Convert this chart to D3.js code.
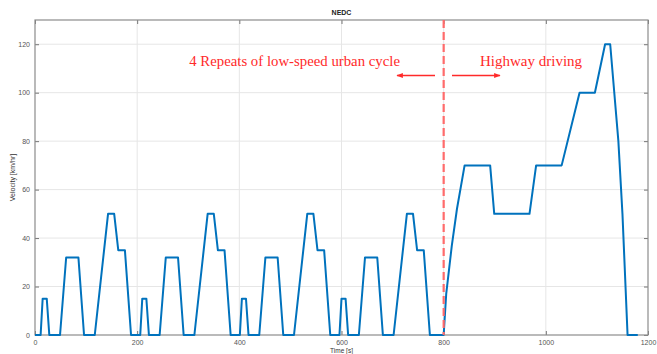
<!DOCTYPE html>
<html><head><meta charset="utf-8">
<script src="https://cdn.jsdelivr.net/npm/d3@7"></script>
<style>body{margin:0;background:#fff;}svg{display:block;}</style>
</head><body>
<svg id="c" width="657" height="354"></svg>
<script>
// ECE-15 urban cycle (one repeat, 195 s): time [s], velocity [km/h]
const eceTime  = [0, 11, 15, 23, 28, 49, 61, 85, 96, 117, 143, 155, 163, 176, 188, 195];
const eceSpeed = [0,  0, 15, 15,  0,  0, 32, 32,  0,   0,  50,  50,  35,  35,   0,   0];
const eceRepeats = 4;
// EUDC highway part (absolute time)
const eudcTime  = [780, 800, 805, 816, 826, 841, 891, 899, 968, 981, 1031, 1066, 1096, 1116, 1126, 1142, 1150, 1160, 1180];
const eudcSpeed = [  0,   0,  17,  37,  52,  70,  70,  50,  50,  70,   70,  100,  100,  120,  120,   80,   50,    0,    0];
const xTicks = [0, 200, 400, 600, 800, 1000, 1200];
const yTicks = [0, 20, 40, 60, 80, 100, 120];
const splitTime = 800;
const title = "NEDC";
const xLabel = "Time [s]";
const yLabel = "Velocity [km/hr]";
const leftNote = "4 Repeats of low-speed urban cycle";
const rightNote = "Highway driving";

const data = [];
for (let r = 0; r < eceRepeats; r++) {
  eceTime.forEach((t, i) => data.push([t + 195 * r, eceSpeed[i]]));
}
eudcTime.forEach((t, i) => data.push([t, eudcSpeed[i]]));

const svg = d3.select("#c");
const L = 35, R = 648, T = 20, B = 335;
const x = d3.scaleLinear().domain([0, 1200]).range([L, R]);
const y = d3.scaleLinear().domain([0, 130]).range([B, T]);

// grid
svg.append("g").selectAll("line").data(xTicks.slice(1, -1)).join("line")
  .attr("x1", d => x(d)).attr("x2", d => x(d)).attr("y1", T).attr("y2", B)
  .attr("stroke", "#e6e6e6").attr("stroke-width", 1);
svg.append("g").selectAll("line").data(yTicks.slice(1)).join("line")
  .attr("x1", L).attr("x2", R).attr("y1", d => y(d)).attr("y2", d => y(d))
  .attr("stroke", "#e6e6e6").attr("stroke-width", 1);

// axes
const fontAxis = "Arial, 'Liberation Sans', Helvetica, sans-serif";
const fmt = d3.format("d");
const xAx = svg.append("g").attr("transform", `translate(0,${B})`)
  .call(d3.axisBottom(x).tickValues(xTicks).tickFormat(fmt).tickSizeInner(-4).tickSizeOuter(0).tickPadding(5));
const xAxT = svg.append("g").attr("transform", `translate(0,${T})`)
  .call(d3.axisTop(x).tickValues(xTicks).tickSizeInner(-4).tickSizeOuter(0).tickFormat(""));
const yAx = svg.append("g").attr("transform", `translate(${L},0)`)
  .call(d3.axisLeft(y).tickValues(yTicks).tickFormat(fmt).tickSizeInner(-4).tickSizeOuter(0).tickPadding(5));
const yAxR = svg.append("g").attr("transform", `translate(${R},0)`)
  .call(d3.axisRight(y).tickValues(yTicks).tickSizeInner(-4).tickSizeOuter(0).tickFormat(""));
[xAx, xAxT, yAx, yAxR].forEach(g => {
  g.select(".domain").remove();
  g.selectAll(".tick line").attr("stroke", "#555").attr("stroke-width", 0.8);
  g.selectAll("text").attr("fill", "#555").attr("font-size", 7).attr("font-family", fontAxis);
});
// box
svg.append("rect").attr("x", L).attr("y", T).attr("width", R - L).attr("height", B - T)
  .attr("fill", "none").attr("stroke", "#8c8c8c").attr("stroke-width", 1.2);

// line
svg.append("path").datum(data)
  .attr("d", d3.line().x(d => x(d[0])).y(d => y(d[1])))
  .attr("fill", "none").attr("stroke", "#0072BD").attr("stroke-width", 2)
  .attr("stroke-linejoin", "round");

// dashed split line
svg.append("line").attr("x1", x(splitTime)).attr("x2", x(splitTime)).attr("y1", T).attr("y2", B)
  .attr("stroke", "#ff6b6b").attr("stroke-width", 2.2).attr("stroke-dasharray", "8,4");

// annotations
const red = "#ff2a2a";
const serif = "'Liberation Serif', 'Times New Roman', serif";
svg.append("text").attr("x", 400).attr("y", 66).attr("text-anchor", "end")
  .attr("font-family", serif).attr("font-size", 14.8)
  .attr("fill", red).text(leftNote);
svg.append("text").attr("x", 480).attr("y", 66).attr("text-anchor", "start")
  .attr("font-family", serif).attr("font-size", 15)
  .attr("fill", red).text(rightNote);
const defs = svg.append("defs");
defs.append("marker").attr("id", "ah").attr("viewBox", "0 0 10 10").attr("refX", 9).attr("refY", 5)
  .attr("markerWidth", 6).attr("markerHeight", 5).attr("orient", "auto")
  .append("path").attr("d", "M0,1 L10,5 L0,9 Z").attr("fill", red);
svg.append("line").attr("x1", 435).attr("x2", 397).attr("y1", 75.5).attr("y2", 75.5)
  .attr("stroke", red).attr("stroke-width", 1.3).attr("marker-end", "url(#ah)");
svg.append("line").attr("x1", 452).attr("x2", 500).attr("y1", 75.5).attr("y2", 75.5)
  .attr("stroke", red).attr("stroke-width", 1.3).attr("marker-end", "url(#ah)");

// title & labels
svg.append("text").attr("x", (L + R) / 2).attr("y", 15).attr("text-anchor", "middle")
  .attr("font-family", fontAxis).attr("font-size", 7).attr("font-weight", "bold").attr("fill", "#222").text(title);
svg.append("text").attr("x", (L + R) / 2).attr("y", 353).attr("text-anchor", "middle")
  .attr("font-family", fontAxis).attr("font-size", 6.5).attr("fill", "#333").text(xLabel);
svg.append("text").attr("transform", `translate(15,${(T + B) / 2}) rotate(-90)`).attr("text-anchor", "middle")
  .attr("font-family", fontAxis).attr("font-size", 7).attr("fill", "#333").text(yLabel);
</script>
</body></html>
